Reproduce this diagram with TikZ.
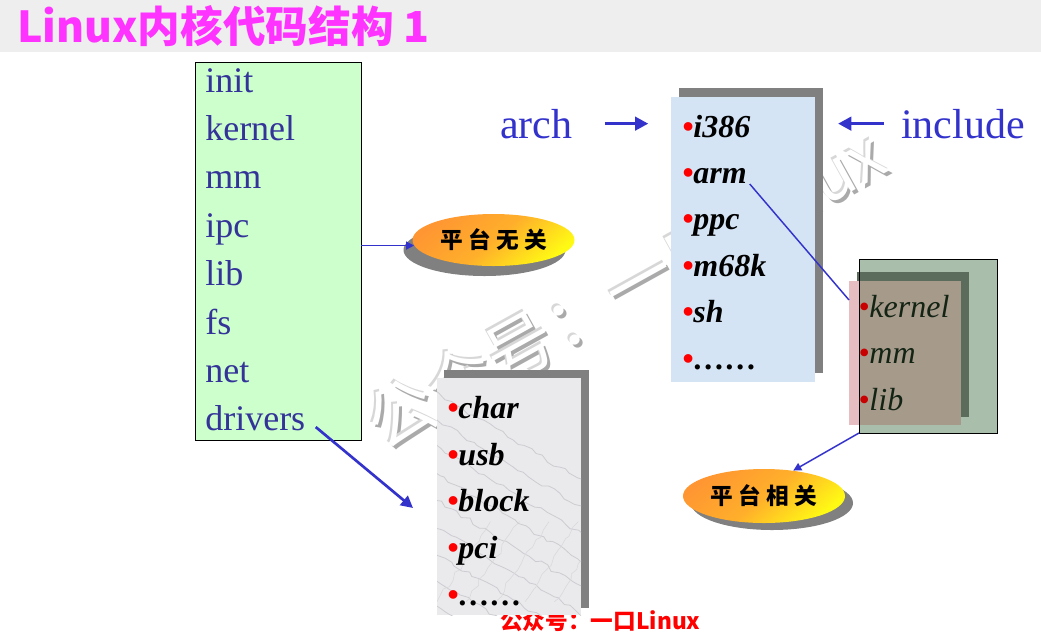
\documentclass[tikz,border=0pt]{standalone}
\usepackage{fontspec}
\setmainfont{Liberation Serif}
\newfontfamily\cjk{Noto Sans CJK SC}
\newfontfamily\cjkblack{Noto Sans CJK SC Black}
\usetikzlibrary{arrows.meta,shapes.geometric,decorations.pathmorphing}

\definecolor{titlemag}{RGB}{255,51,255}
\definecolor{titlebar}{RGB}{238,238,238}
\definecolor{greenfill}{RGB}{204,255,204}
\definecolor{dirblue}{RGB}{51,51,153}
\definecolor{arrowblue}{RGB}{51,51,204}
\definecolor{archfill}{RGB}{212,228,245}
\definecolor{marble}{RGB}{234,234,236}
\definecolor{vein}{RGB}{204,204,210}
\definecolor{shadowgray}{RGB}{128,128,128}
\definecolor{outergreen}{RGB}{170,190,172}
\definecolor{darkgreen}{RGB}{92,108,92}
\definecolor{pinkfill}{RGB}{230,190,194}
\definecolor{brownfill}{RGB}{166,154,139}
\definecolor{archtext}{RGB}{20,36,20}
\definecolor{ellorange}{RGB}{255,150,50}
\definecolor{ellyellow}{RGB}{255,250,20}
\definecolor{wmgray}{RGB}{170,170,170}
\definecolor{wmlight}{RGB}{215,215,215}

\newcommand\redbullet{\textcolor{red}{\textbullet}}
\newcommand\darkbullet{\textcolor[RGB]{200,0,0}{\textbullet}}

\tikzset{
  panel/.style={rectangle, inner sep=0pt, outer sep=0pt},
  dirname/.style={anchor=base west, inner sep=0pt, text=dirblue,
    font=\fontsize{27}{30}\selectfont},
  bolditem/.style={anchor=base west, inner sep=0pt,
    font=\bfseries\itshape\fontsize{24}{28}\selectfont},
  plainitem/.style={anchor=base west, inner sep=0pt, text=archtext,
    font=\itshape\fontsize{24}{28}\selectfont},
  biglabel/.style={anchor=base west, inner sep=0pt, text=arrowblue,
    font=\fontsize{31.5}{36}\selectfont},
  tag/.style={ellipse, inner sep=0pt, minimum width=162*0.75pt,
    minimum height=52*0.75pt, top color=ellorange, bottom color=ellyellow,
    middle color=ellorange!75!ellyellow, shading angle=40,
    font=\cjkblack\fontsize{17}{19}\selectfont},
  tagshadow/.style={ellipse, inner sep=0pt, fill=shadowgray,
    minimum width=162*0.75pt, minimum height=52*0.75pt},
  bigarrow/.style={draw=arrowblue, line width=2.6pt,
    -{Triangle[length=10pt,width=10pt]}},
  midarrow/.style={draw=arrowblue, line width=2pt,
    -{Triangle[length=9pt,width=9pt]}},
  thinarrow/.style={draw=arrowblue, line width=1.1pt,
    -{Triangle[length=6pt,width=6pt]}},
  thinline/.style={draw=arrowblue, line width=1.1pt},
  wmark/.style={rotate=29, inner sep=0pt,
    font=\cjk\fontsize{51}{60}\selectfont},
  veinline/.style={draw=vein, line width=0.6pt,
    decorate, decoration={random steps, segment length=5pt, amplitude=1.6pt}},
}

\begin{document}
\begin{tikzpicture}[x=0.75pt,y=-0.75pt]
\useasboundingbox (0,0) rectangle (1041,633);
\pgfmathsetseed{7}

% title bar
\fill[titlebar] (0,0) rectangle (1041,52);
\node[anchor=base west, inner sep=0pt, text=titlemag,
  font=\cjk\bfseries\fontsize{32}{38}\selectfont] (title) at (17,42)
  {Linux内核代码结构 1};

% embossed watermark behind the panels
\node[wmark, text=wmgray] (wmshade) at (628,291) {公众号：一口Linux};
\node[wmark, text=wmlight] (wmhigh) at (623,286) {公众号：一口Linux};
\node[wmark, text=white] (wmface) at (625,288) {公众号：一口Linux};

% credit line
\node[anchor=base west, inner sep=0pt, text=red,
  font=\cjk\bfseries\fontsize{17}{20}\selectfont] (credit) at (500,629)
  {公众号：一口Linux};

% top-level source directories
\node[panel, draw=black, line width=0.6pt, fill=greenfill,
  minimum width=166*0.75pt, minimum height=378*0.75pt] (srcdirs) at (278,251) {};
\node[dirname] (d-init) at (205,92) {init};
\node[dirname] (d-kernel) at (205,140.4) {kernel};
\node[dirname] (d-mm) at (205,188.8) {mm};
\node[dirname] (d-ipc) at (205,237.2) {ipc};
\node[dirname] (d-lib) at (205,285.6) {lib};
\node[dirname] (d-fs) at (205,334) {fs};
\node[dirname] (d-net) at (205,382.4) {net};
\node[dirname] (d-drivers) at (205,430.8) {drivers};

% platform-independent tag
\node[tagshadow] (e1shadow) at (484.5,250) {};
\node[tag] (e1) at (493.5,240) {平\hspace{4pt}台\hspace{4pt}无\hspace{4pt}关};
\draw[thinarrow] (srcdirs.east |- e1.184) -- (e1.184);

% arch panel
\node[panel, fill=shadowgray, minimum width=144*0.75pt,
  minimum height=285*0.75pt] (archshadow) at (751,230.5) {};
\node[panel, fill=archfill, minimum width=144*0.75pt,
  minimum height=285*0.75pt] (archbox) at (743,239.5) {};
\node[bolditem] (a-i386) at (682,137) {\redbullet i386};
\node[bolditem] (a-arm) at (682,183.4) {\redbullet arm};
\node[bolditem] (a-ppc) at (682,229.8) {\redbullet ppc};
\node[bolditem] (a-m68k) at (682,276.2) {\redbullet m68k};
\node[bolditem] (a-sh) at (682,322.6) {\redbullet sh};
\node[bolditem] (a-more) at (682,369) {\redbullet ……};

% arch / include labels
\node[biglabel] (archlbl) at (500,138) {arch};
\node[biglabel] (inclbl) at (901,138) {include};
\draw[bigarrow, shorten <=24pt, shorten >=17pt]
  (archlbl.east) -- (archlbl.east -| archbox.west);
\draw[bigarrow, shorten <=12.75pt, shorten >=17.25pt]
  (inclbl.west) -- (inclbl.west -| archbox.east);

% per-architecture subdirectories
\node[panel, fill=outergreen, minimum width=138*0.75pt,
  minimum height=174*0.75pt] (archsub) at (928,346) {};
\node[panel, fill=darkgreen, minimum width=112*0.75pt,
  minimum height=145*0.75pt] (subshadow) at (913,344.5) {};
\node[panel, fill=pinkfill, minimum width=112*0.75pt,
  minimum height=144*0.75pt] (subpink) at (905,353) {};
\node[panel, fill=brownfill, minimum width=101*0.75pt,
  minimum height=144*0.75pt] (subface) at (910.5,353) {};
\draw[black, line width=0.6pt] (archsub.north west) rectangle (archsub.south east);
\node[plainitem] (s-kernel) at (858,317) {\darkbullet kernel};
\node[plainitem] (s-mm) at (858,363) {\darkbullet mm};
\node[plainitem] (s-lib) at (858,410) {\darkbullet lib};

\coordinate (armhit) at ([yshift=-19*0.75pt]subpink.north west);
\draw[thinline] ([xshift=2pt]a-arm.south east) -- (armhit);

% platform-dependent tag
\node[tagshadow, minimum height=54*0.75pt] (e2shadow) at (772,503) {};
\node[tag, minimum height=54*0.75pt] (e2) at (764,496) {平\hspace{4pt}台\hspace{4pt}相\hspace{4pt}关};
\draw[thinarrow] (archsub.south west) -- (e2.41);

% drivers panel with marble veining
\node[panel, fill=shadowgray, minimum width=145*0.75pt,
  minimum height=238*0.75pt] (drvshadow) at (516.5,489) {};
\node[panel, fill=marble, minimum width=144*0.75pt,
  minimum height=237*0.75pt] (drvbox) at (509,496.5) {};
\begin{scope}
  \clip (drvbox.north west) rectangle (drvbox.south east);
  \foreach \k in {0,...,9} {
    \draw[veinline] ([xshift=-20pt, yshift=-\k*20pt]drvbox.north west)
      -- ++(150pt,-90pt);
  }
  \foreach \k in {0,...,5} {
    \draw[veinline, draw=vein!60!marble, line width=0.4pt]
      ([xshift=\k*22pt, yshift=10pt]drvbox.south west) -- ++(40pt,60pt);
  }
\end{scope}
\node[bolditem] (v-char) at (447,418) {\redbullet char};
\node[bolditem] (v-usb) at (447,465) {\redbullet usb};
\node[bolditem] (v-block) at (447,511.5) {\redbullet block};
\node[bolditem] (v-pci) at (447,558) {\redbullet pci};
\node[bolditem] (v-more) at (447,605) {\redbullet ……};

\coordinate (drvtip) at (413,508);
\draw[midarrow, shorten <=10pt] (d-drivers.east) -- (drvtip);
\end{tikzpicture}
\end{document}
